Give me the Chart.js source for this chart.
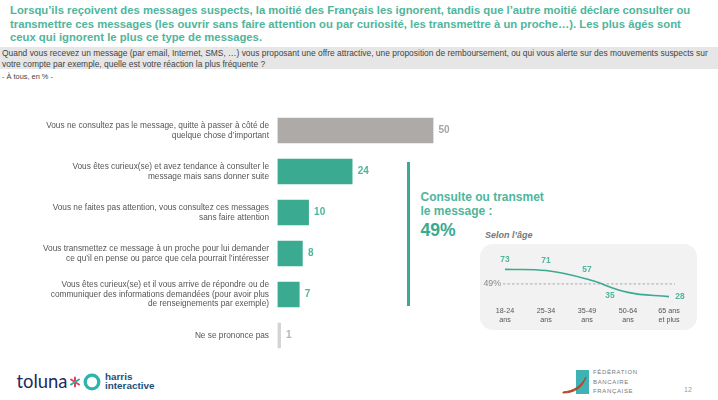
<!DOCTYPE html>
<html lang="fr">
<head>
<meta charset="utf-8">
<script src="https://cdn.jsdelivr.net/npm/chart.js@4"></script>
<style>
body { margin: 0; background: #fff; font-family: "Liberation Sans", sans-serif; }
#page { position: relative; width: 718px; height: 400px; overflow: hidden; }
.t { position: absolute; white-space: nowrap; }
canvas { position: absolute; }
.title { left: 10px; color: #4fb59c; font-size: 11.29px; font-weight: bold; line-height: 14px; }
.q { left: 2px; color: #444; font-size: 8.44px; line-height: 10px; }
</style>
</head>
<body>
<div id="page">
  <div class="t title" style="top:3px">Lorsqu’ils reçoivent des messages suspects, la moitié des Français les ignorent, tandis que l’autre moitié déclare consulter ou</div>
  <div class="t title" style="top:17px">transmettre ces messages (les ouvrir sans faire attention ou par curiosité, les transmettre à un proche…). Les plus âgés sont</div>
  <div class="t title" style="top:30px">ceux qui ignorent le plus ce type de messages.</div>
  <div style="position:absolute;left:0;top:47px;width:718px;height:22px;background:#e6e6e6"></div>
  <div class="t q" style="top:48px">Quand vous recevez un message (par email, Internet, SMS, …) vous proposant une offre attractive, une proposition de remboursement, ou qui vous alerte sur des mouvements suspects sur</div>
  <div class="t q" style="top:59px">votre compte par exemple, quelle est votre réaction la plus fréquente ?</div>
  <div class="t q" style="top:72px;font-size:7.4px">- À tous, en % -</div>

  <div style="position:absolute;left:407px;top:162px;width:2.5px;height:144px;background:#3aaa90"></div>
  <div class="t" style="left:420.5px;top:189.5px;color:#4fb59c;font-size:12px;font-weight:bold;line-height:14.7px">Consulte ou transmet<br>le message :</div>
  <div class="t" style="left:420.5px;top:220px;color:#3aaa90;font-size:17.6px;font-weight:bold;line-height:20px">49%</div>
  <div class="t" style="left:485px;top:230px;color:#777;font-size:9px;font-weight:bold;font-style:italic;line-height:10px">Selon l’âge</div>
  <div style="position:absolute;left:480px;top:244px;width:217px;height:86px;background:#f2f2f2;border-radius:13px"></div>

  <canvas id="bars" width="480" height="246" style="left:0;top:110px;width:480px;height:246px"></canvas>
  <canvas id="age" width="217" height="86" style="left:480px;top:244px;width:217px;height:86px"></canvas>

  <div class="t" style="left:16.5px;top:370px;color:#1d2a5c;font-family:Lato,sans-serif;font-size:18.4px;line-height:22px">toluna</div>
  <svg style="position:absolute;left:69px;top:376px" width="12" height="12" stroke-width="2" stroke-linecap="round"><path d="M6 1.5V10.5" stroke="#e8405a"/><path d="M2 3.5L10 8.5" stroke="#e8405a"/><path d="M10 3.5L2 8.5" stroke="#2fa9a5"/></svg>
  <svg style="position:absolute;left:82px;top:371.7px" width="20" height="20"><circle cx="10" cy="10" r="6.8" fill="none" stroke="#2fb3ad" stroke-width="3.3"/></svg>
  <div class="t" style="left:105px;top:372px;color:#1d4e78;font-size:9.9px;font-weight:bold;line-height:9.3px">harris<br>interactive</div>

  <svg style="position:absolute;left:560px;top:368px" width="32" height="28"><rect x="16" y="2" width="13" height="24" fill="#3fb3b3"/><path d="M3 24 C14 23 21 18 26 9 C23 19 15 25 3 25 Z" fill="#b5482c" stroke="#b5482c"/></svg>
  <div class="t" style="left:593px;top:368px;color:#777;font-size:6px;letter-spacing:0.65px;line-height:9.5px">FÉDÉRATION<br>BANCAIRE<br>FRANÇAISE</div>
  <div class="t" style="left:684px;top:386px;color:#999;font-size:7px">12</div>
</div>
<script>
// valeurs
const reponses = [
    ["Vous ne consultez pas le message, quitte à passer à côté de", "quelque chose d’important"],
    ["Vous êtes curieux(se) et avez tendance à consulter le", "message mais sans donner suite"],
    ["Vous ne faites pas attention, vous consultez ces messages", "sans faire attention"],
    ["Vous transmettez ce message à un proche pour lui demander", "ce qu’il en pense ou parce que cela pourrait l’intéresser"],
    ["Vous êtes curieux(se) et il vous arrive de répondre ou de", "communiquer des informations demandées (pour avoir plus", "de renseignements par exemple)"],
    ["Ne se prononce pas"]
];
const pourcentages = [50, 24, 10, 8, 7, 1];
const couleursBarres = ["#adaaa8", "#3aaa90", "#3aaa90", "#3aaa90", "#3aaa90", "#d5d3d2"];
const couleursValeurs = ["#a5a5a5", "#4fb59c", "#4fb59c", "#4fb59c", "#4fb59c", "#b5b5b5"];

const ages = [["18-24", "ans"], ["25-34", "ans"], ["35-49", "ans"], ["50-64", "ans"], ["65 ans", "et plus"]];
const consulteParAge = [73, 71, 57, 35, 28];
const moyenne = 49;

const font = "'Liberation Sans', sans-serif";

// valeur au bout de chaque barre
const valeursBarres = {
    id: "valeursBarres",
    afterDatasetsDraw(chart) {
        const ctx = chart.ctx;
        ctx.save();
        ctx.font = "bold 10px " + font;
        ctx.textBaseline = "middle";
        chart.getDatasetMeta(0).data.forEach((bar, i) => {
            ctx.fillStyle = couleursValeurs[i];
            ctx.fillText(pourcentages[i], bar.x + 5.5, bar.y);
        });
        ctx.restore();
    }
};

new Chart(document.getElementById("bars"), {
    type: "bar",
    data: {
        labels: reponses,
        datasets: [{ data: pourcentages, backgroundColor: couleursBarres, barThickness: 25 }]
    },
    options: {
        indexAxis: "y",
        responsive: false,
        animation: false,
        layout: { padding: 0 },
        plugins: { legend: { display: false }, tooltip: { enabled: false } },
        scales: {
            x: { display: false, min: 0, max: 65.1 },
            y: {
                afterFit(axis) {
                    axis.width = 277.5;
                    axis.paddingTop = 0;
                    axis.paddingBottom = 0;
                },
                grid: { display: false, drawTicks: false },
                border: { display: false },
                ticks: { color: "#555", padding: 8.5, font: { family: font, size: 8.29, lineHeight: 1.14 } }
            }
        }
    },
    plugins: [valeursBarres]
});

// decalages des etiquettes autour de la courbe
const decalages = [[0, -10], [0, -10], [0, -9], [-18, 3], [11, 0]];

const annotationsAge = {
    id: "annotationsAge",
    beforeDatasetsDraw(chart) {
        const ctx = chart.ctx;
        const y = chart.scales.y.getPixelForValue(moyenne);
        ctx.save();
        ctx.strokeStyle = "#9a9a9a";
        ctx.lineWidth = 0.8;
        ctx.setLineDash([2.5, 2]);
        ctx.beginPath();
        ctx.moveTo(23, y);
        ctx.lineTo(195, y);
        ctx.stroke();
        ctx.setLineDash([]);
        ctx.fillStyle = "#888";
        ctx.font = "8.8px " + font;
        ctx.textAlign = "right";
        ctx.textBaseline = "middle";
        ctx.fillText(moyenne + "%", 21, y);
        ctx.restore();
    },
    afterDatasetsDraw(chart) {
        const ctx = chart.ctx;
        ctx.save();
        ctx.fillStyle = "#4fb59c";
        ctx.font = "bold 8.4px " + font;
        ctx.textAlign = "center";
        ctx.textBaseline = "middle";
        chart.getDatasetMeta(0).data.forEach((pt, i) => {
            ctx.fillText(consulteParAge[i], pt.x + decalages[i][0], pt.y + decalages[i][1]);
        });
        ctx.restore();
    }
};

new Chart(document.getElementById("age"), {
    type: "line",
    data: {
        labels: ages,
        datasets: [{
            data: consulteParAge,
            borderColor: "#3aaa90",
            borderWidth: 1.6,
            tension: 0.4,
            pointRadius: 0,
            fill: false
        }]
    },
    options: {
        responsive: false,
        animation: false,
        layout: { padding: { left: 4.5, right: 7.5, top: 9, bottom: 0 } },
        plugins: { legend: { display: false }, tooltip: { enabled: false } },
        scales: {
            x: {
                offset: true,
                afterFit(axis) { axis.height = 27; },
                grid: { display: false, drawTicks: false },
                border: { display: false },
                ticks: { color: "#555", padding: 3.5, maxRotation: 0, autoSkip: false, font: { family: font, size: 7.17, lineHeight: 1.25 } }
            },
            y: { display: false, min: 17.5, max: 100 }
        }
    },
    plugins: [annotationsAge]
});
</script>
</body>
</html>
